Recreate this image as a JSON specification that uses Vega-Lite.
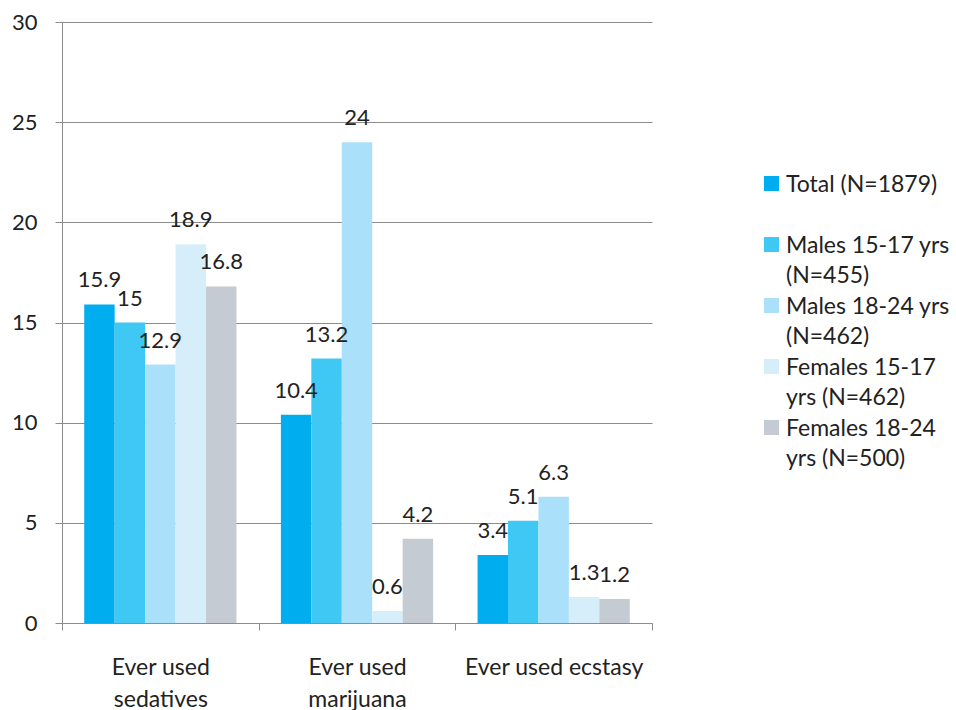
{
  "$schema": "https://vega.github.io/schema/vega-lite/v6.json",
  "autosize": {"type": "none"},
  "width": 590,
  "height": 601,
  "padding": {"left": 62, "top": 22, "right": 304, "bottom": 87},
  "background": "white",
  "config": {
    "view": {"stroke": null},
    "font": "Lato",
    "text": {"font": "Lato"}
  },
  "data": {
    "values": [
      {"cat": "Ever used sedatives", "group": "Total (N=1879)", "value": 15.9},
      {"cat": "Ever used sedatives", "group": "Males 15-17 yrs (N=455)", "value": 15},
      {"cat": "Ever used sedatives", "group": "Males 18-24 yrs (N=462)", "value": 12.9},
      {"cat": "Ever used sedatives", "group": "Females 15-17 yrs (N=462)", "value": 18.9},
      {"cat": "Ever used sedatives", "group": "Females 18-24 yrs (N=500)", "value": 16.8},
      {"cat": "Ever used marijuana", "group": "Total (N=1879)", "value": 10.4},
      {"cat": "Ever used marijuana", "group": "Males 15-17 yrs (N=455)", "value": 13.2},
      {"cat": "Ever used marijuana", "group": "Males 18-24 yrs (N=462)", "value": 24},
      {"cat": "Ever used marijuana", "group": "Females 15-17 yrs (N=462)", "value": 0.6},
      {"cat": "Ever used marijuana", "group": "Females 18-24 yrs (N=500)", "value": 4.2},
      {"cat": "Ever used ecstasy", "group": "Total (N=1879)", "value": 3.4},
      {"cat": "Ever used ecstasy", "group": "Males 15-17 yrs (N=455)", "value": 5.1},
      {"cat": "Ever used ecstasy", "group": "Males 18-24 yrs (N=462)", "value": 6.3},
      {"cat": "Ever used ecstasy", "group": "Females 15-17 yrs (N=462)", "value": 1.3},
      {"cat": "Ever used ecstasy", "group": "Females 18-24 yrs (N=500)", "value": 1.2}
    ]
  },
  "encoding": {
    "x": {
      "field": "cat",
      "type": "nominal",
      "sort": null,
      "title": null,
      "scale": {"paddingInner": 0, "paddingOuter": 0},
      "axis": {
        "tickBand": "extent",
        "labelAngle": 0,
        "labelFontSize": 23,
        "labelColor": "#222222",
        "labelFont": "Lato",
        "labelLineHeight": 32,
        "labelPadding": 26,
        "labelBaseline": "top",
        "labelExpr": "datum.label == 'Ever used sedatives' ? ['Ever used', 'sedatives'] : datum.label == 'Ever used marijuana' ? ['Ever used', 'marijuana'] : datum.label",
        "domainColor": "#8c8c8c",
        "tickColor": "#8c8c8c",
        "tickSize": 7,
        "grid": false
      }
    },
    "xOffset": {
      "field": "group",
      "type": "nominal",
      "sort": null,
      "scale": {"paddingInner": 0, "paddingOuter": 0.73}
    },
    "y": {
      "field": "value",
      "type": "quantitative",
      "title": null,
      "scale": {"domain": [0, 30], "nice": false},
      "axis": {
        "values": [0, 5, 10, 15, 20, 25, 30],
        "labelFontSize": 22,
        "labelColor": "#222222",
        "labelFont": "Lato",
        "labelPadding": 18,
        "tickSize": 7,
        "tickColor": "#8c8c8c",
        "domainColor": "#8c8c8c",
        "gridColor": "#8c8c8c",
        "gridOpacity": 1,
        "grid": true
      }
    }
  },
  "layer": [
    {
      "mark": {"type": "bar", "width": {"band": 1}},
      "encoding": {
        "color": {
          "field": "group",
          "type": "nominal",
          "sort": null,
          "scale": {
            "domain": ["Total (N=1879)", "Males 15-17 yrs (N=455)", "Males 18-24 yrs (N=462)", "Females 15-17 yrs (N=462)", "Females 18-24 yrs (N=500)"],
            "range": ["#00aeef", "#40c8f4", "#abe0fa", "#d6eefa", "#c4cbd2"]
          },
          "legend": {
            "title": null,
            "orient": "none",
            "legendX": 698,
            "legendY": 150,
            "symbolType": "square",
            "symbolSize": 225,
            "symbolStrokeWidth": 0,
            "symbolOpacity": 1,
            "labelFontSize": 23,
            "labelFont": "Lato",
            "labelColor": "#222222",
            "labelBaseline": "alphabetic",
            "labelLimit": 300,
            "labelOffset": 3,
            "rowPadding": 6,
            "encode": {
              "labels": {"update": {"lineHeight": {"value": 30}, "dy": {"value": 8}}}
            },
            "labelExpr": "datum.label == 'Total (N=1879)' ? ['Total (N=1879)', ' '] : datum.label == 'Males 15-17 yrs (N=455)' ? ['Males 15-17 yrs', '(N=455)'] : datum.label == 'Males 18-24 yrs (N=462)' ? ['Males 18-24 yrs', '(N=462)'] : datum.label == 'Females 15-17 yrs (N=462)' ? ['Females 15-17', 'yrs (N=462)'] : ['Females 18-24', 'yrs (N=500)']"
          }
        }
      }
    },
    {
      "mark": {"type": "text", "baseline": "alphabetic", "dy": -17, "fontSize": 22, "color": "#222222", "font": "Lato"},
      "encoding": {
        "text": {"field": "value", "type": "quantitative"}
      }
    }
  ]
}
